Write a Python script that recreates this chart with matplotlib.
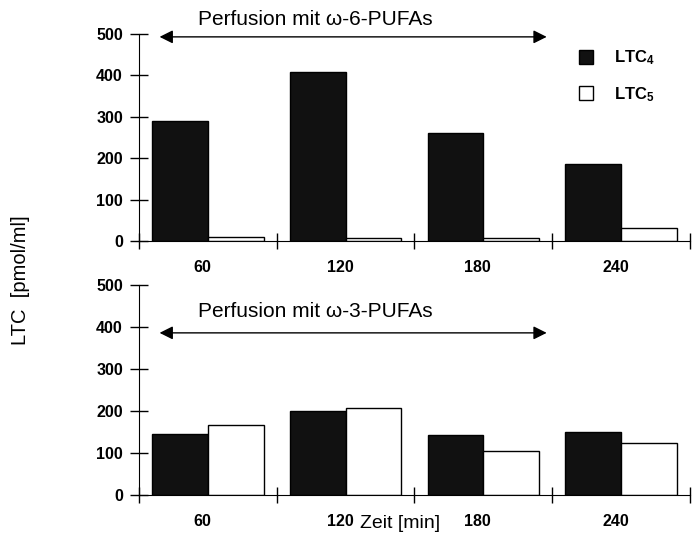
import numpy as np
import matplotlib.pyplot as plt

plt.rcParams['font.family'] = ['Liberation Sans', 'DejaVu Sans']
plt.rcParams['mathtext.fontset'] = 'custom'
plt.rcParams['mathtext.bf'] = 'Liberation Sans:bold'
plt.rcParams['mathtext.rm'] = 'Liberation Sans:bold'
plt.rcParams['mathtext.default'] = 'bf'

# Zeitpunkte (min) und LTC-Werte (pmol/ml)
times = ['60', '120', '180', '240']
ltc4_omega6 = [290, 409, 261, 187]
ltc5_omega6 = [10, 8, 7, 32]
ltc4_omega3 = [145, 201, 143, 150]
ltc5_omega3 = [167, 206, 105, 124]

panels = [
    {'LTC4': ltc4_omega6, 'LTC5': ltc5_omega6,
     'Text': 'Perfusion mit \u03c9-6-PUFAs', 'Arrow y': 493, 'Text y': 534},
    {'LTC4': ltc4_omega3, 'LTC5': ltc5_omega3,
     'Text': 'Perfusion mit \u03c9-3-PUFAs', 'Arrow y': 386, 'Text y': 436},
]

fig = plt.figure(figsize=(6.98, 5.35), dpi=100)
ax_top = fig.add_axes([0.199, 0.5495, 0.7895, 0.387])
ax_bot = fig.add_axes([0.199, 0.0748, 0.7895, 0.3925])

x = np.arange(len(times)) + 0.5
width = 0.405

for ax, p in zip([ax_top, ax_bot], panels):
    b4 = ax.bar(x - width / 2, p['LTC4'], width, color='#111111',
                edgecolor='black', linewidth=1)
    b5 = ax.bar(x + width / 2, p['LTC5'], width, color='white',
                edgecolor='black', linewidth=1)
    ax.set_xlim(0, 4)
    ax.set_ylim(0, 500)
    ax.set_yticks([0, 100, 200, 300, 400, 500])
    ax.set_xticks([0, 1, 2, 3, 4])
    ax.set_xticklabels([])
    ax.set_xticks(x - 0.04, minor=True)
    ax.set_xticklabels(times, minor=True, fontweight='bold', fontsize=11.5)
    ax.tick_params(axis='x', which='minor', length=0, pad=14)
    ax.tick_params(axis='x', which='major', direction='inout', length=12,
                   width=1)
    ax.tick_params(axis='y', direction='inout', length=13, width=1,
                   labelsize=11.5, pad=5)
    for lab in ax.get_yticklabels():
        lab.set_fontweight('bold')
    ax.spines['top'].set_visible(False)
    ax.spines['right'].set_visible(False)

    # Doppelpfeil fuer den Perfusionszeitraum
    ax.annotate('', xy=(0.15, p['Arrow y']), xytext=(2.96, p['Arrow y']),
                arrowprops=dict(arrowstyle='<|-|>', color='black', lw=1,
                                mutation_scale=20, shrinkA=0, shrinkB=0),
                annotation_clip=False)
    ax.text(1.28, p['Text y'], p['Text'], ha='center', va='center',
            fontsize=15, clip_on=False)

    if ax is ax_top:
        ax.legend([b4, b5], ['LTC$_4$', 'LTC$_5$'], loc='upper left',
                  bbox_to_anchor=(0.829, 0.909), bbox_transform=fig.transFigure,
                  frameon=False, borderpad=0, borderaxespad=0,
                  handlelength=0.85, handleheight=0.85, handletextpad=1.3,
                  labelspacing=1.05, prop={'weight': 'bold', 'size': 12})

fig.text(0.03, 0.477, 'LTC  [pmol/ml]', rotation=90, ha='center',
         va='center', fontsize=14.5)
fig.text(0.516, 0.022, 'Zeit [min]', ha='left', va='center', fontsize=14)

plt.savefig('out.png')
